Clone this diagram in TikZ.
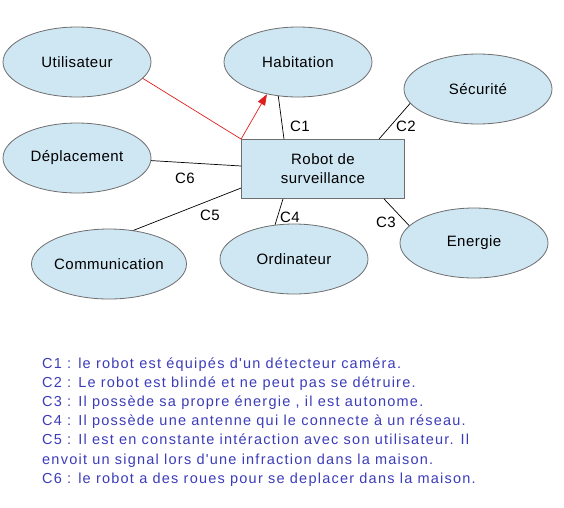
\documentclass[tikz,border=0pt]{standalone}
\usepackage{fontspec}
\setmainfont{Liberation Sans}
\newfontfamily\legendfont[LetterSpace=8.5]{Liberation Sans}
\newfontfamily\nodefont[LetterSpace=3]{Liberation Sans}
\usetikzlibrary{shapes.geometric,arrows.meta,calc}
\definecolor{boxfill}{RGB}{207,230,243}
\definecolor{boxline}{RGB}{110,110,110}
\definecolor{legendblue}{RGB}{60,60,185}
\definecolor{linkred}{RGB}{225,30,30}
\tikzset{
  ell/.style={ellipse, draw=boxline, fill=boxfill, line width=0.8pt, minimum width=148pt, minimum height=70pt, inner sep=0pt, font=\nodefont\fontsize{15}{18}\selectfont},
  rbox/.style={rectangle, draw=boxline, fill=boxfill, line width=0.8pt, minimum width=163pt, minimum height=59pt, inner sep=0pt, align=center, font=\nodefont\fontsize{15}{19}\selectfont},
  link/.style={draw=black, line width=0.7pt},
  redlink/.style={draw=linkred, line width=0.7pt},
  clabel/.style={inner sep=0pt, font=\nodefont\fontsize{15}{18}\selectfont},
  legend/.style={inner sep=0pt, anchor=base west, align=left, text=legendblue, font=\legendfont\fontsize{14.5}{19.2}\selectfont}
}
\begin{document}
\begin{tikzpicture}[x=1pt,y=-1pt]
\useasboundingbox (0,0) rectangle (564,507);
\node[ell] (util) at (77,62) {Utilisateur};
\node[ell] (hab) at (298,62) {Habitation};
\node[ell] (secu) at (478,89) {Sécurité};
\node[ell] (depl) at (77,158) {Déplacement};
\node[rbox] (robot) at (323,169) {Robot de\\surveillance};
\node[ell] (ener) at (474,243) {Energie};
\node[ell] (ordi) at (294,259) {Ordinateur};
\node[ell] (comm) at (109,264) {Communication};

\draw[redlink] (util.-14) -- (robot.north west);
\draw[redlink, -{Triangle[length=11pt,width=8pt]}] (robot.north west) -- (hab.-134);

\draw[link] (hab.-120) -- ([xshift=-39pt]robot.north);
\draw[link] (secu.-168) -- ([xshift=56pt]robot.north);
\draw[link] (ener.165) -- ([xshift=61pt]robot.south);
\draw[link] (ordi.119) -- ([xshift=-40pt]robot.south);
\draw[link] (comm.54) -- ([yshift=-19pt]robot.west);
\draw[link] (depl.-2) -- ([yshift=3pt]robot.west);

\node[clabel] (c1) at (300,126) {C1};
\node[clabel] (c2) at (406,126) {C2};
\node[clabel] (c3) at (386,222) {C3};
\node[clabel] (c4) at (290,217) {C4};
\node[clabel] (c5) at (210,215) {C5};
\node[clabel] (c6) at (185,178) {C6};

\node[legend] (leg) at (42,483.2) {C1 : le robot est équipés d'un détecteur caméra.\\
C2 : Le robot est blindé et ne peut pas se détruire.\\
C3 : Il possède sa propre énergie , il est autonome.\\
C4 : Il possède une antenne qui le connecte à un réseau.\\
C5 : Il est en constante intéraction avec son utilisateur. Il\\
envoit un signal lors d'une infraction dans la maison.\\
C6 : le robot a des roues pour se deplacer dans la maison.};
\end{tikzpicture}
\end{document}
